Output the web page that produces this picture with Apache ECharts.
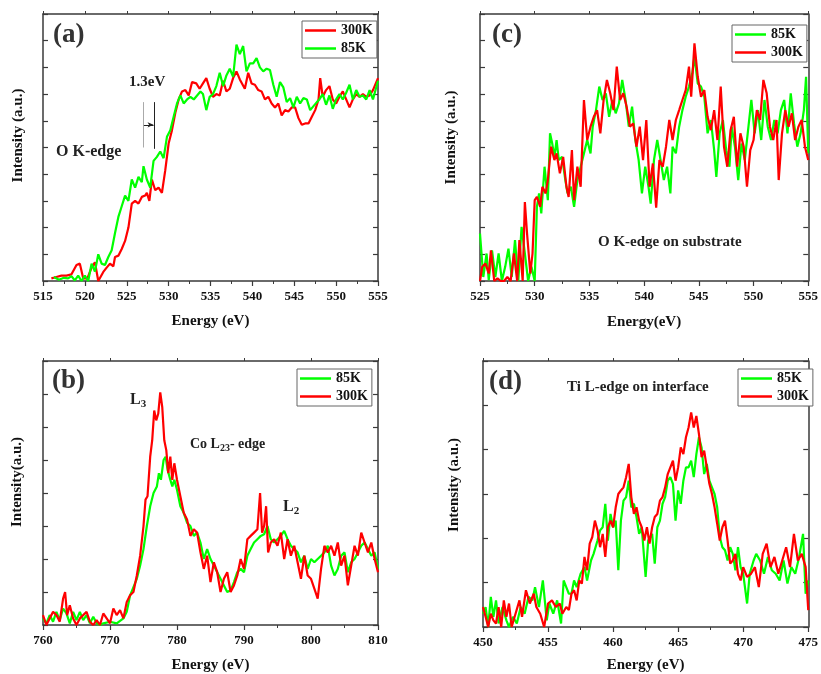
<!DOCTYPE html>
<html><head><meta charset="utf-8">
<script src="https://cdn.jsdelivr.net/npm/echarts@6/dist/echarts.min.js"></script>
<style>html,body{margin:0;padding:0;background:#fff}#c{width:821px;height:674px}</style>
</head><body><div id="c"></div>
<script>
// ---- Panel (a): O K-edge ----
const a_300K = [[516.0,0.1],[516.6,0.15],[517.2,0.2],[517.8,0.2],[518.4,0.25],[519.0,0.6],[519.4,0.65],[519.8,0.1],[520.3,0.1],[520.8,0.5],[521.2,0.7],[521.6,0.0],[522.2,0.34],[522.6,0.5],[523.0,0.65],[523.4,0.55],[523.6,0.9],[524.0,0.95],[524.4,1.2],[524.8,1.5],[525.2,2.0],[525.6,2.9],[526.0,3.0],[526.4,2.9],[526.8,3.15],[527.2,3.2],[527.4,3.3],[527.7,3.0],[528.0,3.8],[528.4,3.4],[528.8,3.5],[529.2,3.3],[529.6,4.15],[530.0,5.15],[530.4,5.65],[530.8,6.3],[531.2,6.8],[531.6,7.1],[532.0,7.15],[532.4,6.95],[532.8,7.45],[533.3,7.4],[533.7,7.2],[534.1,7.4],[534.5,7.6],[534.9,7.2],[535.3,6.9],[535.7,7.0],[536.1,6.95],[536.5,7.5],[536.9,7.1],[537.3,7.2],[537.7,7.6],[538.1,7.85],[538.5,7.55],[539.1,7.2],[539.5,7.8],[539.9,7.4],[540.3,7.35],[540.7,7.15],[541.1,7.1],[541.5,6.8],[541.9,6.9],[542.3,6.65],[542.7,6.5],[543.1,6.65],[543.5,6.2],[543.9,6.4],[544.3,6.35],[544.7,6.5],[545.1,6.5],[545.5,6.1],[545.9,5.85],[546.3,5.9],[546.7,5.9],[547.1,6.15],[547.5,6.4],[547.9,6.8],[548.1,7.6],[548.4,6.9],[548.8,7.15],[549.2,7.3],[549.6,6.8],[550.0,6.65],[550.4,6.9],[550.8,7.1],[551.2,6.8],[551.6,6.5],[552.0,6.8],[552.4,7.0],[552.8,6.9],[553.2,7.0],[553.6,6.9],[554.0,6.95],[554.4,7.15],[555.0,7.6]];
const a_85K = [[516.3,0.15],[516.9,0.05],[517.5,0.12],[518.0,0.1],[518.4,0.18],[518.8,0.02],[519.2,0.2],[519.6,0.0],[520.0,0.2],[520.4,0.0],[520.8,0.65],[521.2,0.35],[521.6,1.0],[522.0,0.65],[522.4,0.6],[522.8,0.9],[523.2,1.15],[523.6,1.8],[524.0,2.4],[524.4,2.8],[524.8,3.2],[525.2,3.0],[525.6,3.8],[526.0,3.5],[526.4,3.9],[526.8,3.7],[527.0,4.3],[527.4,3.8],[527.8,3.5],[528.2,4.5],[528.6,4.65],[529.0,4.85],[529.4,4.6],[529.8,5.4],[530.2,5.65],[530.6,6.15],[531.0,6.65],[531.4,6.95],[531.8,6.65],[532.2,6.8],[532.6,6.9],[533.0,6.8],[533.4,6.95],[533.8,7.1],[534.1,7.0],[534.5,6.4],[534.9,6.9],[535.3,7.0],[535.7,7.3],[536.1,7.8],[536.5,7.3],[536.9,7.7],[537.3,7.95],[537.7,7.65],[538.1,8.85],[538.5,8.5],[538.9,8.8],[539.3,7.85],[539.7,8.15],[540.1,8.15],[540.5,8.35],[540.9,8.0],[541.3,7.85],[541.7,7.95],[542.1,7.9],[542.5,7.35],[542.9,6.9],[543.3,7.45],[543.7,7.25],[544.1,6.7],[544.5,6.85],[544.9,6.5],[545.3,6.9],[545.7,6.65],[546.1,6.85],[546.5,6.8],[546.9,6.4],[547.3,6.55],[547.7,6.7],[548.0,6.8],[548.4,7.0],[548.8,6.6],[549.2,6.95],[549.6,6.45],[550.0,6.8],[550.4,7.0],[550.8,6.8],[551.2,7.05],[551.6,7.35],[552.0,6.8],[552.4,7.15],[552.8,6.9],[553.2,6.95],[553.6,6.8],[554.0,7.15],[554.4,6.8],[555.0,7.5]];

// ---- Panel (c): O K-edge on substrate ----
const c_85K = [[525.0,1.78],[525.3,0.15],[525.6,1.03],[525.8,0.03],[526.1,1.15],[526.4,0.15],[526.7,1.03],[527.0,0],[527.3,0.53],[527.6,1.21],[527.9,0.15],[528.2,1.53],[528.5,0],[528.8,2.03],[529.1,1.03],[529.4,0],[529.7,0.53],[530.0,0],[530.2,2.78],[530.4,3.28],[530.6,2.53],[530.9,4.28],[531.2,3.03],[531.4,5.53],[531.6,5.15],[531.8,4.65],[532.0,5.28],[532.2,4.53],[532.5,4.65],[532.8,3.78],[533.0,3.28],[533.3,3.53],[533.6,2.78],[533.9,3.78],[534.2,4.28],[534.5,4.78],[534.8,5.28],[535.1,4.78],[535.3,5.78],[535.6,6.4],[535.9,7.28],[536.2,6.78],[536.5,7.03],[536.8,6.15],[537.1,6.78],[537.4,6.28],[537.7,6.65],[538.0,7.53],[538.3,6.78],[538.6,5.78],[538.9,6.53],[539.2,5.28],[539.5,4.53],[539.8,3.28],[540.1,4.28],[540.4,3.53],[540.6,2.9],[540.9,4.53],[541.2,5.28],[541.5,4.53],[541.8,3.78],[542.1,4.28],[542.4,3.28],[542.6,5.03],[542.9,4.78],[543.2,5.78],[543.5,6.4],[543.8,6.9],[544.1,7.28],[544.4,7.78],[544.6,8.4],[544.9,7.4],[545.2,7.28],[545.5,6.9],[545.8,5.53],[546.1,6.03],[546.4,4.9],[546.6,3.9],[546.9,5.53],[547.2,6.03],[547.5,4.9],[547.8,4.28],[548.0,5.78],[548.3,5.03],[548.6,3.78],[548.9,5.15],[549.2,4.53],[549.5,5.65],[549.8,6.78],[550.1,5.53],[550.4,6.4],[550.7,5.28],[551.0,6.78],[551.3,5.78],[551.6,5.28],[551.9,6.03],[552.2,5.53],[552.5,6.4],[552.8,6.78],[553.1,5.53],[553.4,7.03],[553.7,5.9],[554.0,5.03],[554.3,5.53],[554.6,6.4],[554.8,7.65],[555.0,4.78]];
const c_300K = [[525.0,0],[525.2,0.53],[525.5,0.65],[525.8,0.28],[526.0,1.15],[526.3,0],[526.6,0.1],[526.9,0],[527.2,0],[527.5,0.15],[527.8,0],[528.1,1.03],[528.4,0],[528.6,1.53],[528.9,0],[529.1,2.96],[529.3,1.78],[529.6,0.28],[529.8,1.03],[530.0,3.03],[530.2,3.15],[530.5,2.78],[530.7,3.53],[531.0,3.28],[531.2,3.78],[531.5,5.03],[531.8,4.53],[532.0,4.78],[532.3,4.03],[532.6,4.65],[532.9,3.53],[533.1,3.15],[533.4,4.9],[533.6,3.03],[533.9,4.28],[534.2,3.53],[534.5,6.78],[534.8,5.28],[535.1,5.78],[535.4,6.15],[535.7,6.4],[536.0,5.53],[536.3,6.78],[536.6,7.53],[536.9,7.03],[537.2,6.4],[537.5,8.03],[537.8,6.78],[538.1,7.03],[538.4,6.53],[538.7,5.78],[539.0,5.9],[539.3,5.03],[539.6,5.78],[539.9,4.53],[540.2,6.03],[540.5,3.53],[540.8,4.4],[541.1,2.75],[541.4,4.53],[541.7,4.28],[542.0,5.03],[542.3,6.03],[542.6,5.28],[542.9,6.03],[543.2,6.4],[543.5,6.78],[543.8,7.15],[544.1,8.03],[544.3,6.9],[544.6,8.9],[544.9,7.65],[545.2,6.9],[545.5,7.15],[545.8,6.15],[546.1,5.65],[546.4,6.4],[546.7,5.28],[547.0,7.28],[547.3,5.03],[547.6,4.28],[547.9,5.65],[548.2,6.15],[548.5,4.28],[548.8,5.53],[549.1,5.03],[549.4,3.53],[549.7,4.9],[550.0,5.28],[550.3,6.4],[550.6,6.03],[550.9,7.53],[551.2,7.03],[551.5,5.78],[551.8,5.28],[552.1,6.03],[552.3,3.78],[552.6,5.53],[552.9,6.4],[553.2,5.78],[553.5,6.28],[553.8,5.28],[554.1,5.78],[554.4,6.03],[554.7,5.03],[555.0,4.53]];

// ---- Panel (b): Co L23 edge ----
const b_85K = [[760.0,0.2],[760.5,0.05],[761.0,0.3],[761.5,0.1],[762.0,0.4],[762.5,0.15],[763.0,0.5],[763.5,0.35],[764.0,0.05],[764.5,0.4],[765.0,0.15],[765.5,0.4],[766.0,0.15],[766.5,0.3],[767.0,0.05],[767.5,0.25],[768.0,0.05],[768.5,0],[769.0,0.05],[770.0,0.1],[771.0,0.05],[772.0,0.2],[772.5,0.4],[773.0,0.9],[773.5,1.15],[774.0,1.4],[774.5,1.8],[775.0,2.3],[775.5,3.0],[776.0,3.6],[776.5,4.0],[777.0,4.2],[777.3,4.6],[777.6,4.4],[778.0,5.0],[778.3,5.1],[778.6,4.7],[779.0,4.4],[779.3,4.2],[779.6,4.4],[780.0,4.1],[780.5,3.6],[781.0,3.4],[781.5,3.1],[782.0,3.0],[782.5,2.7],[783.0,2.8],[783.5,2.5],[784.0,2.0],[784.5,2.3],[785.0,2.0],[785.5,1.8],[786.0,1.6],[786.5,1.4],[787.0,1.2],[787.5,1.0],[788.0,1.05],[788.5,1.3],[789.0,1.6],[789.5,1.7],[790.0,1.6],[790.5,2.1],[791.0,2.3],[791.5,2.5],[792.0,2.6],[792.5,2.7],[793.0,2.75],[793.5,3.0],[794.0,2.6],[794.5,2.5],[795.0,2.6],[795.5,2.7],[796.0,2.85],[796.5,2.6],[797.0,2.4],[797.5,2.3],[798.0,2.2],[798.5,1.9],[799.0,2.1],[799.5,1.7],[800.0,2.0],[800.5,1.9],[801.0,2.0],[801.5,2.1],[802.0,2.2],[802.5,2.4],[803.0,1.8],[803.5,1.5],[804.0,1.7],[804.5,2.1],[805.0,2.2],[805.5,1.6],[806.0,1.9],[806.5,2.0],[807.0,2.2],[807.5,2.4],[808.0,2.5],[808.5,2.3],[809.0,2.1],[809.5,2.2],[810.0,1.7]];
const b_300K = [[760.0,0.3],[760.5,0],[761.0,0.2],[761.5,0.4],[762.0,0.3],[762.5,0.1],[763.0,0.8],[763.3,1.0],[763.6,0.3],[764.0,0.6],[764.5,0.2],[765.0,0],[765.5,0.2],[766.0,0.3],[766.5,0.4],[767.0,0.1],[767.5,0],[768.0,0.15],[768.5,0],[769.0,0.35],[769.5,0.2],[770.0,0.05],[770.5,0.5],[771.0,0.3],[771.5,0.45],[772.0,0.2],[772.5,0.7],[773.0,0.9],[773.5,1.0],[774.0,1.5],[774.5,2.1],[775.0,3.0],[775.3,3.8],[775.6,3.9],[776.0,5.1],[776.3,5.6],[776.6,6.5],[776.9,6.2],[777.2,6.4],[777.5,7.05],[777.8,6.6],[778.1,5.6],[778.4,5.3],[778.7,4.6],[779.0,5.1],[779.3,4.4],[779.6,4.9],[780.0,4.4],[780.5,3.9],[781.0,3.4],[781.5,3.2],[782.0,2.7],[782.5,2.9],[783.0,2.8],[783.5,2.2],[784.0,1.7],[784.5,2.1],[785.0,1.3],[785.5,1.9],[786.0,1.6],[786.5,1.0],[787.0,1.4],[787.5,1.6],[788.0,1.0],[788.5,1.2],[789.0,1.5],[789.5,2.0],[790.0,1.7],[790.5,2.6],[791.0,2.7],[791.5,2.8],[792.0,2.9],[792.4,4.0],[792.7,2.8],[793.0,3.0],[793.3,3.6],[793.6,2.2],[794.0,2.5],[794.5,2.6],[795.0,2.4],[795.5,2.8],[796.0,2.0],[796.5,2.6],[797.0,2.1],[797.5,2.4],[798.0,1.9],[798.5,1.4],[799.0,2.1],[799.5,1.5],[800.0,1.4],[800.5,1.1],[801.0,0.8],[801.5,1.7],[802.0,2.4],[802.5,2.2],[803.0,2.4],[803.5,2.1],[804.0,2.5],[804.5,1.8],[805.0,2.1],[805.5,1.2],[806.0,1.8],[806.5,2.4],[807.0,2.1],[807.5,2.8],[808.0,2.5],[808.5,2.2],[809.0,2.5],[809.5,2.0],[810.0,1.6]];

// ---- Panel (d): Ti L-edge on interface ----
const d_85K = [[450.0,0.3],[450.2,0.45],[450.4,0],[450.6,0.68],[450.8,0.23],[451.0,0.6],[451.2,0.08],[451.5,0.45],[451.8,0.15],[452.0,0],[452.3,0.23],[452.6,0.08],[452.9,0.45],[453.2,0.3],[453.5,0.68],[453.8,0.6],[454.0,0.9],[454.3,0.45],[454.6,1.05],[454.9,0.15],[455.1,0.53],[455.4,0.3],[455.7,0.6],[456.0,0.08],[456.2,1.05],[456.4,0.9],[456.6,0.75],[456.8,0.75],[457.0,1.05],[457.2,0.9],[457.5,1.2],[457.8,1.35],[458.0,1.05],[458.3,1.5],[458.5,1.65],[458.8,1.95],[459.0,2.18],[459.2,2.25],[459.4,2.78],[459.6,1.95],[459.8,2.55],[460.0,2.25],[460.2,2.4],[460.4,1.28],[460.6,2.4],[460.8,2.85],[461.0,2.93],[461.2,3.3],[461.4,2.7],[461.6,2.78],[461.8,2.48],[462.0,2.1],[462.2,2.25],[462.5,1.13],[462.7,1.95],[463.0,2.1],[463.2,1.43],[463.4,2.25],[463.6,2.4],[463.8,2.78],[464.0,2.93],[464.2,3.3],[464.4,3.38],[464.6,3.23],[464.8,2.4],[465.0,3.08],[465.2,2.78],[465.4,3.3],[465.6,3.6],[465.8,3.6],[466.0,3.75],[466.2,3.38],[466.4,3.9],[466.6,4.28],[466.8,4.05],[467.0,3.45],[467.2,3.68],[467.4,3.3],[467.6,3.15],[467.8,3.0],[468.0,2.7],[468.2,2.03],[468.4,1.8],[468.6,1.73],[468.8,1.5],[469.0,1.8],[469.2,1.65],[469.4,1.28],[469.6,1.8],[469.8,1.35],[470.0,1.2],[470.3,0.53],[470.5,1.2],[470.8,1.5],[471.0,1.65],[471.3,1.5],[471.6,1.2],[471.9,1.58],[472.2,1.28],[472.5,1.2],[472.8,1.05],[473.1,1.5],[473.4,0.98],[473.7,1.35],[474.0,1.2],[474.3,1.58],[474.6,2.1],[474.8,0.75],[475.0,1.05]];
const d_300K = [[450.0,0.45],[450.2,0.23],[450.4,0],[450.6,0.3],[450.8,0.15],[451.0,0.08],[451.2,0.45],[451.4,0],[451.6,0.6],[451.8,0.23],[452.0,0.53],[452.2,0],[452.5,0.3],[452.8,0.6],[453.0,0.23],[453.3,0.83],[453.6,0.53],[453.9,0.75],[454.1,0.45],[454.4,0.3],[454.7,0],[455.0,0.53],[455.3,0.6],[455.6,0.45],[455.9,0.53],[456.1,0.3],[456.4,0.45],[456.6,0.38],[456.8,0.75],[457.0,0.83],[457.2,0.6],[457.4,1.05],[457.6,0.98],[457.8,1.58],[458.0,1.28],[458.2,1.88],[458.4,2.03],[458.6,2.4],[458.8,2.18],[459.0,1.8],[459.2,2.1],[459.4,1.58],[459.6,2.25],[459.8,2.4],[460.0,2.25],[460.2,2.7],[460.4,3.0],[460.6,3.08],[460.8,3.15],[461.0,3.38],[461.2,3.68],[461.4,2.93],[461.6,2.55],[461.8,2.7],[462.0,2.4],[462.2,2.25],[462.4,1.95],[462.6,2.25],[462.8,1.88],[463.0,2.25],[463.2,2.48],[463.4,2.55],[463.6,2.85],[463.8,2.93],[464.0,3.15],[464.2,3.45],[464.4,3.6],[464.6,3.75],[464.8,3.3],[465.0,3.6],[465.2,4.05],[465.4,3.9],[465.6,4.28],[465.8,4.5],[466.0,4.84],[466.2,4.5],[466.4,4.76],[466.6,4.35],[466.8,3.83],[467.0,3.98],[467.2,3.6],[467.4,3.23],[467.6,3.0],[467.8,2.7],[468.0,2.33],[468.2,1.95],[468.4,2.25],[468.6,2.4],[468.8,1.95],[469.0,1.43],[469.2,1.5],[469.4,1.65],[469.6,1.2],[469.8,1.05],[470.0,1.35],[470.3,1.13],[470.6,1.2],[470.9,1.35],[471.2,0.9],[471.5,1.65],[471.8,1.88],[472.1,1.35],[472.4,1.58],[472.7,1.2],[473.0,1.5],[473.3,1.8],[473.6,1.35],[473.9,2.1],[474.2,1.5],[474.5,1.65],[474.8,1.35],[475.0,0.38]];

// axis ranges
const xRanges = [[515,555,5],[525,555,5],[760,810,10],[450,475,5]];
const yMax = [10,10,8,6];
const xNames = ['Energy (eV)','Energy(eV)','Energy (eV)','Energy (eV)'];
const yNames = ['Intensity (a.u.)','Intensity (a.u.)','Intensity(a.u.)','Intensity (a.u.)'];

const FONT = "'Liberation Serif','Times New Roman',serif";
const RED = '#ff0000', GREEN = '#00ff00', AX = '#3a3a3a';

const grids = [
  {left:43, top:14, width:335, height:267},
  {left:480, top:14, width:330, height:267},
  {left:43, top:361, width:335, height:266},
  {left:483, top:361, width:330, height:266}
];
const xNameGap = [33,34,33,31];
const yNameGap = [17,21,18,21];
const yNameShift = [24,20,22,18];

const xAxes = [], yAxes = [];
grids.forEach((g,i)=>{
  const [mn,mx,iv] = xRanges[i];
  xAxes.push({type:'value', gridIndex:i, min:mn, max:mx, interval:iv, position:'bottom',
    name:xNames[i], nameLocation:'middle', nameGap:xNameGap[i],
    nameTextStyle:{fontFamily:FONT, fontWeight:'bold', fontSize:15, color:'#111'},
    axisLine:{onZero:false, lineStyle:{color:AX, width:1.5}},
    axisTick:{inside:false, length:5, lineStyle:{color:AX, width:1.2}},
    minorTick:{show:true, splitNumber:2, length:3, lineStyle:{color:AX, width:1}},
    axisLabel:{fontFamily:FONT, fontWeight:'bold', fontSize:13, color:'#111', margin:9},
    splitLine:{show:false}});
  xAxes.push({type:'value', gridIndex:i, min:mn, max:mx, interval:iv, position:'top',
    axisLine:{onZero:false, lineStyle:{color:AX, width:1.5}},
    axisTick:{inside:false, length:3, lineStyle:{color:AX, width:1}},
    axisLabel:{show:false}, splitLine:{show:false}});
  yAxes.push({type:'value', gridIndex:i, min:0, max:yMax[i], interval:1, position:'left',
    name:yNames[i], nameLocation:'middle', nameGap:yNameGap[i], nameRotate:90,
    nameTextStyle:{fontFamily:FONT, fontWeight:'bold', fontSize:15, color:'#111', padding:[0,0,0,yNameShift[i]]},
    axisLine:{show:true, onZero:false, lineStyle:{color:AX, width:1.5}},
    axisTick:{show:true, inside:true, length:5, lineStyle:{color:AX, width:1.2}},
    axisLabel:{show:false}, splitLine:{show:false}});
  yAxes.push({type:'value', gridIndex:i, min:0, max:yMax[i], interval:1, position:'right',
    axisLine:{show:true, onZero:false, lineStyle:{color:AX, width:1.5}},
    axisTick:{show:true, inside:true, length:5, lineStyle:{color:AX, width:1.2}},
    axisLabel:{show:false}, splitLine:{show:false}});
});

function line(name, data, color, gi, extra){
  return Object.assign({type:'line', name, data, xAxisIndex:gi*2, yAxisIndex:gi*2,
    symbol:'none', showSymbol:false, smooth:false, animation:false,
    lineStyle:{color, width:2.2}, itemStyle:{color}}, extra||{});
}

const series = [
  line('300K', a_300K, RED, 0),
  line('85K', a_85K, GREEN, 0, {markLine:{silent:true, animation:false, label:{show:false},
    data:[
      [{coord:[526.95,5.0], symbol:'none', lineStyle:{color:'#aaaaaa', width:1, type:'solid'}},{coord:[526.95,6.7], symbol:'none'}],
      [{coord:[528.25,4.95], symbol:'none', lineStyle:{color:'#222', width:1, type:'solid'}},{coord:[528.25,6.7], symbol:'none'}],
      [{coord:[527.05,5.85], symbol:'none', lineStyle:{color:'#222', width:1, type:'solid'}},{coord:[528.2,5.85], symbol:'arrow', symbolSize:[4,6]}]
    ]}}),
  line('85K', c_85K, GREEN, 1),
  line('300K', c_300K, RED, 1),
  line('85K', b_85K, GREEN, 2),
  line('300K', b_300K, RED, 2),
  line('85K', d_85K, GREEN, 3),
  line('300K', d_300K, RED, 3)
];

function legend(left, top, names){
  return {left, top, orient:'vertical', data:names.map(n=>({name:n, icon:'rect'})), show:true,
    backgroundColor:'#fff', borderColor:'#666', borderWidth:1, borderRadius:0,
    padding:[2,4,2,3], itemGap:3, itemWidth:31, itemHeight:2.5, selectedMode:false,
    textStyle:{fontFamily:FONT, fontWeight:'bold', fontSize:14, color:'#111', lineHeight:15}};
}

const T = (x,y,text,size,extra) => Object.assign({type:'text', x, y, silent:true,
  style:{text, fill:'#222', font:`bold ${size}px ${FONT}`, verticalAlign:'middle'}}, extra||{});

function richText(x, y, text, size, sub){
  return {type:'text', x, y, silent:true, style:{text, verticalAlign:'middle', fill:'#222',
    rich:{m:{fontFamily:FONT, fontWeight:'bold', fontSize:size, fill:'#222', lineHeight:size+4},
          s:{fontFamily:FONT, fontWeight:'bold', fontSize:sub, fill:'#222', lineHeight:size+4, padding:[Math.round(size*0.55),0,0,0]}}}};
}
const big = (x,y,t)=>({type:'text', x, y, silent:true, style:{text:t, fill:'#333', font:`bold 27px ${FONT}`, verticalAlign:'middle'}});

const option = {
  backgroundColor:'#fff',
  animation:false,
  grid: grids,
  xAxis: xAxes,
  yAxis: yAxes,
  legend: [legend(302,21,['300K','85K']), legend(732,25,['85K','300K']), legend(297,369,['85K','300K']), legend(738,369,['85K','300K'])],
  series,
  graphic: [
    big(53,35,'(a)'),
    T(129,82,'1.3eV',15),
    T(56,152,'O K-edge',16),
    big(492,35,'(c)'),
    T(598,242,'O K-edge on substrate',15),
    big(52,381,'(b)'),
    richText(130,400,'{m|L}{s|3}',16,11),
    richText(190,444,'{m|Co L}{s|23}{m|- edge}',14,10),
    richText(283,507,'{m|L}{s|2}',16,11),
    big(489,382,'(d)'),
    T(567,387,'Ti L-edge on interface',15)
  ]
};
const chart = echarts.init(document.getElementById('c'), null, {renderer:'canvas'});
chart.setOption(option);
</script></body></html>
